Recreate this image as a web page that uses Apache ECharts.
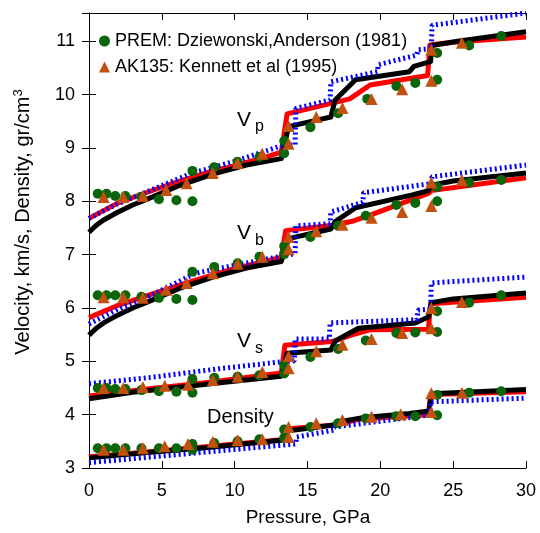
<!DOCTYPE html>
<html><head><meta charset="utf-8">
<script src="https://cdn.jsdelivr.net/npm/echarts@6/dist/echarts.min.js"></script>
<style>html,body{margin:0;padding:0;background:#fff}#c{width:540px;height:533px}</style>
</head><body><div id="c"></div>
<script>
// ---- data (pressure GPa, value) ----
const premVp = [[0.6,8.14],[1.2,8.14],[1.8,8.1],[2.5,8.1],[3.6,8.08],[4.8,8.04],[6.0,8.02],[7.1,8.0],[7.1,8.57],[8.6,8.64],[10.2,8.74],[11.7,8.83],[13.4,8.9],[13.4,9.13],[15.2,9.39],[17.1,9.65],[19.1,9.92],[21.1,10.16],[22.4,10.22],[23.9,10.28],[23.9,10.78],[26.1,10.92],[28.3,11.1]];
const premVb = [[0.6,6.24],[1.2,6.24],[1.8,6.24],[2.5,6.24],[3.6,6.21],[4.8,6.19],[6.0,6.17],[7.1,6.15],[7.1,6.68],[8.6,6.77],[10.2,6.84],[11.7,6.96],[13.4,7.01],[13.4,7.16],[15.2,7.33],[17.1,7.54],[19.0,7.73],[21.1,7.93],[22.4,7.97],[23.9,8.0],[23.9,8.27],[26.1,8.35],[28.3,8.4]];
const premVs = [[0.6,4.5],[1.2,4.5],[1.8,4.48],[2.5,4.48],[3.6,4.46],[4.8,4.44],[6.0,4.43],[7.1,4.41],[7.1,4.67],[8.6,4.69],[10.2,4.71],[11.7,4.74],[13.4,4.77],[13.4,4.93],[15.2,5.08],[17.1,5.23],[19.0,5.39],[21.1,5.53],[22.4,5.54],[23.9,5.55],[23.9,5.94],[26.1,6.1],[28.3,6.24]];
const premRho = [[0.6,3.37],[1.2,3.37],[1.8,3.37],[2.5,3.37],[3.6,3.37],[4.8,3.37],[6.0,3.37],[7.1,3.34],[7.1,3.45],[8.6,3.47],[10.2,3.5],[11.7,3.54],[13.4,3.56],[13.4,3.72],[15.2,3.77],[17.1,3.84],[19.0,3.93],[21.1,3.97],[22.4,3.97],[23.9,3.99],[23.9,4.37],[26.1,4.41],[28.3,4.44]];

const akVp = [[1.0,8.08],[2.35,8.08],[3.7,8.1],[5.3,8.21],[6.7,8.34],[8.5,8.53],[10.2,8.72],[11.9,8.89],[13.7,9.08],[13.7,9.41],[15.6,9.58],[17.4,9.75],[19.4,9.92],[21.5,10.1],[23.5,10.26],[23.5,10.84],[25.6,10.97]];
const akVb = [[1.0,6.2],[2.35,6.2],[3.7,6.19],[5.3,6.34],[6.7,6.47],[8.5,6.65],[10.2,6.83],[11.9,6.96],[13.7,7.1],[13.7,7.33],[15.6,7.44],[17.4,7.56],[19.4,7.69],[21.5,7.8],[23.5,7.91],[23.5,8.35],[25.6,8.4]];
const akVs = [[1.0,4.5],[2.35,4.5],[3.7,4.52],[5.2,4.54],[6.8,4.56],[8.5,4.65],[10.2,4.71],[11.9,4.8],[13.7,4.87],[13.7,5.1],[15.6,5.19],[17.4,5.31],[19.4,5.42],[21.5,5.53],[23.5,5.62],[23.5,6.0],[25.6,6.11]];
const akRho = [[1.0,3.34],[2.35,3.34],[3.7,3.37],[5.2,3.41],[6.8,3.45],[8.5,3.49],[10.2,3.52],[11.9,3.54],[13.7,3.58],[13.7,3.77],[15.6,3.84],[17.4,3.9],[19.4,3.96],[21.4,4.01],[23.5,4.05],[23.5,4.4],[25.6,4.41]];

const vpBlack = [[0,7.42],[0.5,7.55],[1,7.65],[2,7.8],[3,7.93],[4,8.04],[6.25,8.3],[8.5,8.51],[10.8,8.68],[13.2,8.8],[13.7,9.4],[16.6,9.58],[16.9,9.9],[18.3,10.28],[22.0,10.43],[22.3,10.53],[23.2,10.6],[23.45,10.62],[23.55,10.92],[25.3,11.0],[30,11.18]];
const vpRed = [[0,7.68],[2,7.97],[4,8.17],[6,8.36],[8,8.53],[10,8.67],[12,8.82],[13.2,8.92],[13.6,9.64],[16.7,9.84],[17.9,9.92],[19.3,10.18],[23.25,10.36],[23.4,10.93],[25,10.98],[30,11.08]];
const vpBlue = [[0,7.68],[2,7.96],[4,8.18],[7,8.52],[10,8.75],[13.1,9.03],[14.15,9.06],[14.2,9.74],[16.55,9.9],[16.6,10.24],[19.8,10.43],[19.85,10.56],[22.5,10.74],[22.6,10.84],[23.5,10.86],[23.55,11.3],[30,11.53]];

const vbBlack = [[0,5.49],[0.5,5.62],[1,5.72],[2,5.87],[3,6.0],[4,6.11],[6.25,6.37],[8.5,6.58],[10.8,6.75],[13.2,6.87],[13.7,7.3],[16.6,7.48],[16.9,7.62],[18.3,7.88],[22.2,8.12],[23.3,8.2],[23.5,8.3],[25,8.38],[30,8.53]];
const vbRed = [[0,5.82],[2,6.05],[4,6.23],[6,6.41],[8,6.58],[10,6.74],[12,6.87],[13.2,6.95],[13.5,7.45],[16.7,7.55],[18.0,7.62],[19.3,7.74],[23.3,8.15],[23.5,8.2],[30,8.44]];
const vbBlue = [[0,5.7],[2,5.98],[4,6.2],[7.3,6.65],[10,6.8],[13,6.96],[14.15,7.02],[14.2,7.54],[16.55,7.58],[16.6,7.8],[18.8,7.98],[18.85,8.16],[22.9,8.31],[23.5,8.33],[23.55,8.46],[30,8.68]];

const vsBlack = [[0,4.3],[3,4.42],[6,4.51],[9,4.6],[13.2,4.72],[13.6,5.15],[16.6,5.21],[16.9,5.38],[18.5,5.62],[22.4,5.72],[23.3,5.83],[23.5,6.1],[25,6.17],[30,6.28]];
const vsRed = [[0,4.35],[4,4.48],[8,4.6],[13.2,4.78],[13.45,5.3],[16.7,5.37],[18.0,5.49],[19.3,5.59],[23.3,5.6],[23.45,6.08],[30,6.2]];
const vsBlue = [[0,4.58],[4.3,4.7],[8.9,4.86],[13.2,4.99],[14.1,5.01],[14.15,5.42],[16.5,5.42],[16.55,5.72],[22.5,5.78],[22.6,5.96],[23.45,5.98],[23.5,6.47],[30,6.58]];

const rhoBlack = [[0,3.19],[4,3.29],[8,3.38],[13.2,3.52],[13.7,3.7],[16.7,3.8],[17.5,3.88],[18.7,3.94],[22,4.02],[23.35,4.07],[23.5,4.39],[30,4.47]];
const rhoRed = [[0,3.21],[4,3.3],[8,3.4],[13.2,3.53],[13.5,3.73],[16.7,3.8],[18.7,3.92],[23.3,4.0],[23.45,4.38],[30,4.43]];
const rhoBlue = [[0,3.1],[4,3.2],[9.3,3.33],[14.2,3.45],[14.25,3.58],[16.8,3.71],[16.85,3.77],[23.3,3.99],[23.45,4.24],[30,4.31]];

const xRange = [0, 30];
const yRange = [3, 11.53];
const premName = 'PREM: Dziewonski,Anderson (1981)';
const akName = 'AK135: Kennett et al (1995)';

// ---- chart ----
const FONT = '"Liberation Sans", Arial, Helvetica, sans-serif';
const chart = echarts.init(document.getElementById('c'), null, {renderer: 'canvas'});

function lineSeries(data, color, dotted, z) {
  return {
    type: 'line', data: data, showSymbol: false, symbol: 'none', silent: true, z: z,
    lineStyle: dotted ? {color: color, width: 5, type: [2, 3], cap: 'butt'} : {color: color, width: 5, join: 'round'},
    xAxisIndex: 0, yAxisIndex: 0
  };
}
const axisCommon = {
  axisLine: {show: true, lineStyle: {color: '#000', width: 1}},
  axisTick: {show: true, inside: true, length: 7, lineStyle: {color: '#000', width: 1}},
  splitLine: {show: false}
};

const option = {
  animation: false,
  backgroundColor: '#fff',
  textStyle: {fontFamily: FONT},
  grid: {left: 89, right: 14, top: 13, bottom: 65, containLabel: false},
  legend: {
    orient: 'vertical', left: 94, top: 27, itemGap: 8, itemWidth: 11, itemHeight: 11,
    textStyle: {fontSize: 18, color: '#000', fontFamily: FONT},
    data: [{name: premName, icon: 'circle'}, {name: akName, icon: 'triangle'}]
  },
  xAxis: [
    Object.assign({type: 'value', position: 'bottom', min: xRange[0], max: xRange[1], interval: 5,
      axisLabel: {color: '#000', fontSize: 18, margin: 14, fontFamily: FONT}}, axisCommon),
    Object.assign({type: 'value', position: 'top', min: xRange[0], max: xRange[1], interval: 5,
      axisLabel: {show: false}}, axisCommon)
  ],
  yAxis: [
    Object.assign({type: 'value', position: 'left', min: yRange[0], max: yRange[1], interval: 1,
      axisLabel: {color: '#000', fontSize: 18, margin: 14, fontFamily: FONT, showMaxLabel: false,
        formatter: v => (Math.abs(v - Math.round(v)) < 1e-6 ? String(Math.round(v)) : '')}}, axisCommon),
    Object.assign({type: 'value', position: 'right', min: yRange[0], max: yRange[1], interval: 1,
      axisLabel: {show: false}}, axisCommon)
  ],
  series: [
    lineSeries(vpRed, '#ff0000', false, 2), lineSeries(vbRed, '#ff0000', false, 2),
    lineSeries(vsRed, '#ff0000', false, 2), lineSeries(rhoRed, '#ff0000', false, 2),
    lineSeries(vpBlack, '#000000', false, 3), lineSeries(vbBlack, '#000000', false, 3),
    lineSeries(vsBlack, '#000000', false, 3), lineSeries(rhoBlack, '#000000', false, 3),
    lineSeries(vpBlue, '#0000ff', true, 4), lineSeries(vbBlue, '#0000ff', true, 4),
    lineSeries(vsBlue, '#0000ff', true, 4), lineSeries(rhoBlue, '#0000ff', true, 4),
    {type: 'scatter', name: premName, symbol: 'circle', symbolSize: 10, z: 6,
      itemStyle: {color: '#0b650b', opacity: 1},
      data: premVp.concat(premVb, premVs, premRho)},
    {type: 'scatter', name: akName, symbol: 'triangle', symbolSize: 12, z: 7,
      itemStyle: {color: '#c2500f', opacity: 1},
      data: akVp.concat(akVb, akVs, akRho)}
  ],
  graphic: [
    {type: 'text', x: 23, y: 222, rotation: Math.PI / 2, z: 100,
      style: {text: '{a|Velocity, km/s, Density, gr/cm}{b|3}', align: 'center', verticalAlign: 'middle', fill: '#000',
        rich: {a: {fontSize: 20, fontFamily: FONT, lineHeight: 22, fill: '#000'},
               b: {fontSize: 13, fontFamily: FONT, verticalAlign: 'top', fill: '#000'}}}},
    {type: 'text', x: 308, y: 518, z: 100,
      style: {text: 'Pressure, GPa', font: '19px ' + FONT, align: 'center', verticalAlign: 'middle', fill: '#000'}},
    {type: 'text', x: 237, y: 120, z: 100, style: {text: 'V', font: '21px ' + FONT, align: 'left', verticalAlign: 'middle', fill: '#000'}},
    {type: 'text', x: 255, y: 127, z: 100, style: {text: 'p', font: '16px ' + FONT, align: 'left', verticalAlign: 'middle', fill: '#000'}},
    {type: 'text', x: 237, y: 233, z: 100, style: {text: 'V', font: '21px ' + FONT, align: 'left', verticalAlign: 'middle', fill: '#000'}},
    {type: 'text', x: 255, y: 241, z: 100, style: {text: 'b', font: '16px ' + FONT, align: 'left', verticalAlign: 'middle', fill: '#000'}},
    {type: 'text', x: 237, y: 341, z: 100, style: {text: 'V', font: '21px ' + FONT, align: 'left', verticalAlign: 'middle', fill: '#000'}},
    {type: 'text', x: 255, y: 349, z: 100, style: {text: 's', font: '16px ' + FONT, align: 'left', verticalAlign: 'middle', fill: '#000'}},
    {type: 'text', x: 207, y: 417, z: 100, style: {text: 'Density', font: '20px ' + FONT, align: 'left', verticalAlign: 'middle', fill: '#000'}}
  ]
};
chart.setOption(option);
</script>
</body></html>
